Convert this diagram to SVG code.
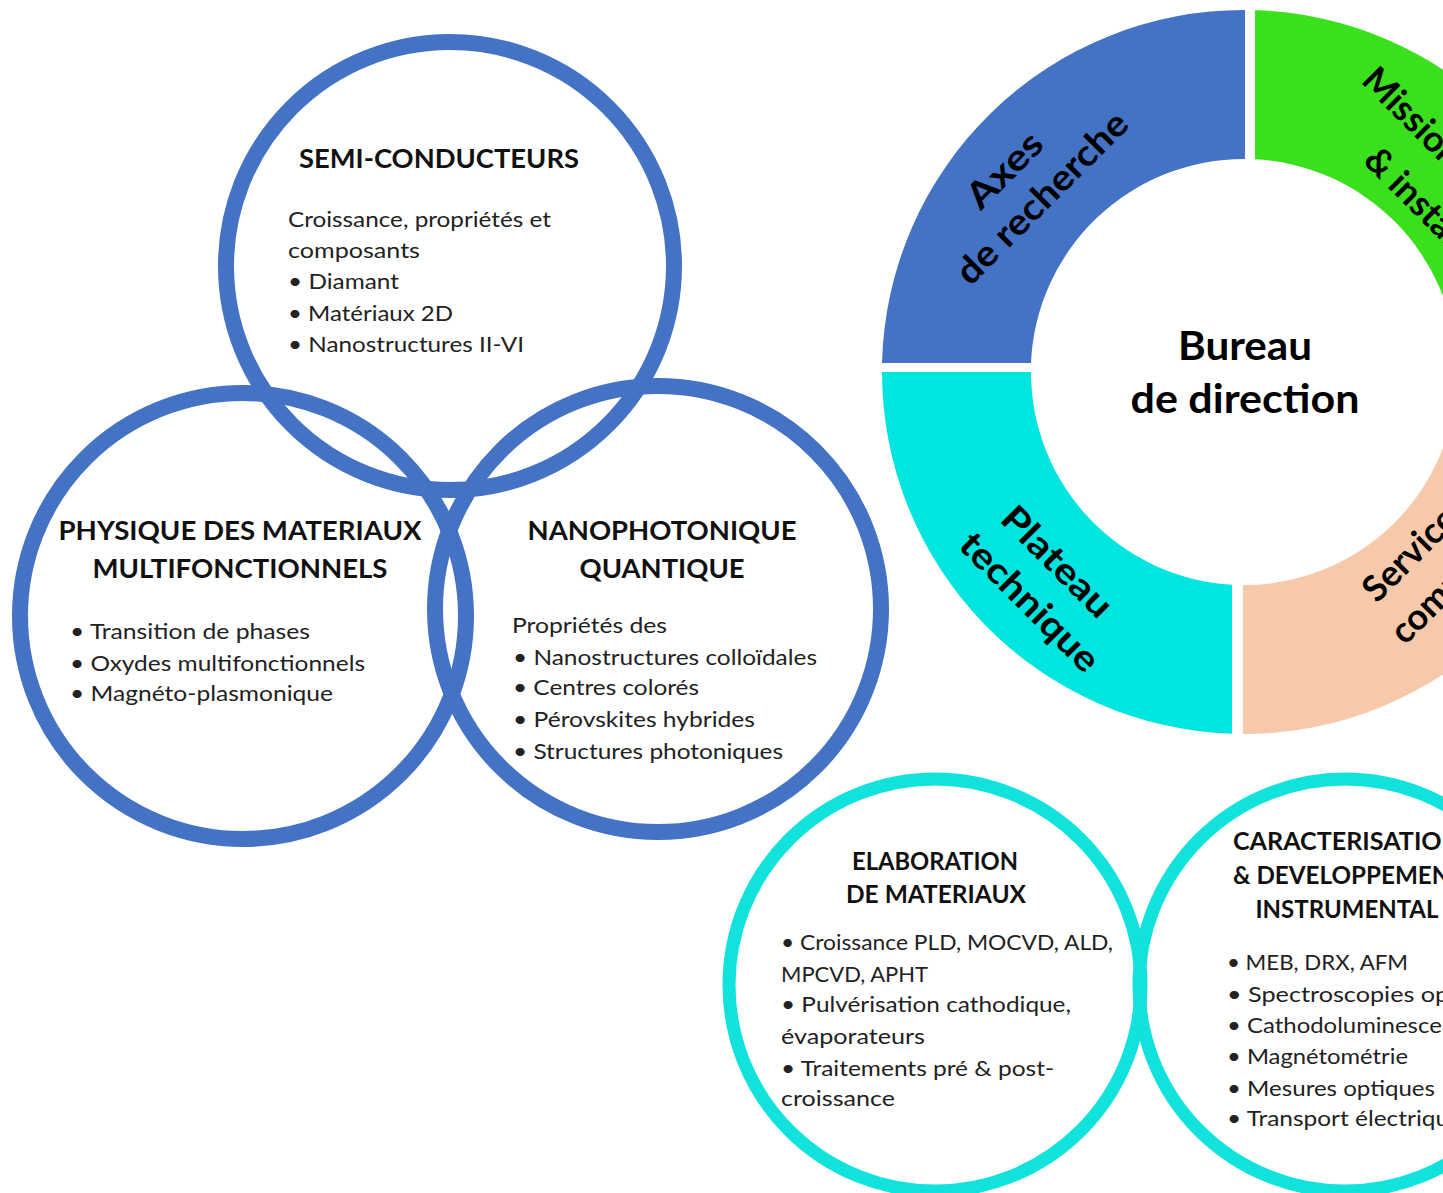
<svg xmlns="http://www.w3.org/2000/svg" width="1443" height="1193" viewBox="0 0 1443 1193">
<style>
.bc{fill:none;stroke:#4472C4;stroke-width:16}
.cc{fill:none;stroke:#12E2DC;stroke-width:13}
.h{font-family:Lato,"Liberation Sans",sans-serif;font-weight:bold;fill:#111;font-size:26px}
.h2{font-family:Lato,"Liberation Sans",sans-serif;font-weight:bold;fill:#111;font-size:24px}
.b{font-family:Lato,"Liberation Sans",sans-serif;fill:#222;font-size:21px}
.d{font-family:Lato,"Liberation Sans",sans-serif;font-weight:bold;fill:#000;font-size:36px}
.bu{font-family:Lato,"Liberation Sans",sans-serif;font-weight:bold;fill:#000;font-size:40px}
</style>
<rect width="1443" height="1193" fill="#fff"/>
<g id="connectors"></g>

<g id="donut">
<path id="sec-axes" d="M 882,363 A 362 362 0 0 1 1245,10 L 1245,159 A 213 213 0 0 0 1031,363 Z" fill="#4472C4"/>
<path id="sec-missions" d="M 1255,10.2 A 362 362 0 0 1 1605.9,363 L 1456.8,363 A 213 213 0 0 0 1255,159.3 Z" fill="#3BE01C"/>
<path id="sec-plateau" d="M 882,372 L 1031,372 A 213 213 0 0 0 1232,584.7 L 1232,733.8 A 362 362 0 0 1 882,372 Z" fill="#00E5DF"/>
<path id="sec-services" d="M 1243,585 L 1243,734 A 362 362 0 0 0 1606,372 L 1457,372 A 213 213 0 0 1 1243,585 Z" fill="#F7C9AB"/>
<g transform="translate(1016,176) rotate(-45)">
<text class="d" x="-4" y="0" text-anchor="middle" textLength="92" lengthAdjust="spacingAndGlyphs">Axes</text>
<text class="d" x="3" y="46" text-anchor="middle" textLength="227" lengthAdjust="spacingAndGlyphs">de recherche</text>
</g>
<g transform="translate(1360,82) rotate(45)">
<text class="d" x="0" y="0">Missions</text>
</g>
<g transform="translate(1362,162) rotate(45)">
<text class="d" x="0" y="0">&amp; instances</text>
</g>
<g transform="translate(1052,574) rotate(45)">
<text class="d" x="-5" y="0" text-anchor="middle" textLength="141" lengthAdjust="spacingAndGlyphs">Plateau</text>
<text class="d" x="4" y="48" text-anchor="middle" textLength="181" lengthAdjust="spacingAndGlyphs">technique</text>
</g>
<g transform="translate(1377,604) rotate(-45)">
<text class="d" x="0" y="0">Services</text>
</g>
<g transform="translate(1405,646) rotate(-45)">
<text class="d" x="0" y="0">communs</text>
</g>
<text class="bu" x="1245" y="360" text-anchor="middle" textLength="134" lengthAdjust="spacingAndGlyphs">Bureau</text>
<text class="bu" x="1245" y="413" text-anchor="middle" textLength="229" lengthAdjust="spacingAndGlyphs">de direction</text>
</g>

<g id="semi">
<circle class="bc" cx="450" cy="266" r="224"/>
<text class="h" x="439" y="168" text-anchor="middle" textLength="280" lengthAdjust="spacingAndGlyphs">SEMI-CONDUCTEURS</text>
<text class="b" x="288" y="227" textLength="263" lengthAdjust="spacingAndGlyphs">Croissance, propriétés et</text>
<text class="b" x="288" y="258" textLength="132" lengthAdjust="spacingAndGlyphs">composants</text>
<text class="b" x="288" y="289" textLength="111" lengthAdjust="spacingAndGlyphs">• Diamant</text>
<text class="b" x="288" y="321" textLength="165" lengthAdjust="spacingAndGlyphs">• Matériaux 2D</text>
<text class="b" x="288" y="352" textLength="236" lengthAdjust="spacingAndGlyphs">• Nanostructures II-VI</text>
</g>

<g id="physique">
<circle class="bc" cx="243" cy="616" r="223"/>
<text class="h" x="240" y="540" text-anchor="middle" textLength="363" lengthAdjust="spacingAndGlyphs">PHYSIQUE DES MATERIAUX</text>
<text class="h" x="240" y="578" text-anchor="middle" textLength="295" lengthAdjust="spacingAndGlyphs">MULTIFONCTIONNELS</text>
<text class="b" x="70" y="639" textLength="240" lengthAdjust="spacingAndGlyphs">• Transition de phases</text>
<text class="b" x="70" y="671" textLength="295" lengthAdjust="spacingAndGlyphs">• Oxydes multifonctionnels</text>
<text class="b" x="70" y="701" textLength="263" lengthAdjust="spacingAndGlyphs">• Magnéto-plasmonique</text>
</g>

<g id="nanophotonique">
<circle class="bc" cx="658" cy="609" r="223"/>
<text class="h" x="662" y="540" text-anchor="middle" textLength="269" lengthAdjust="spacingAndGlyphs">NANOPHOTONIQUE</text>
<text class="h" x="662" y="578" text-anchor="middle" textLength="165" lengthAdjust="spacingAndGlyphs">QUANTIQUE</text>
<text class="b" x="512" y="633" textLength="155" lengthAdjust="spacingAndGlyphs">Propriétés des</text>
<text class="b" x="513" y="665" textLength="304" lengthAdjust="spacingAndGlyphs">• Nanostructures colloïdales</text>
<text class="b" x="513" y="695" textLength="186" lengthAdjust="spacingAndGlyphs">• Centres colorés</text>
<text class="b" x="513" y="727" textLength="242" lengthAdjust="spacingAndGlyphs">• Pérovskites hybrides</text>
<text class="b" x="513" y="759" textLength="270" lengthAdjust="spacingAndGlyphs">• Structures photoniques</text>
</g>

<g id="elaboration">
<circle class="cc" cx="935" cy="985" r="206"/>
<text class="h2" x="935" y="870" text-anchor="middle" textLength="166" lengthAdjust="spacingAndGlyphs">ELABORATION</text>
<text class="h2" x="936" y="903" text-anchor="middle" textLength="180" lengthAdjust="spacingAndGlyphs">DE MATERIAUX</text>
<text class="b" x="781" y="950" textLength="332" lengthAdjust="spacingAndGlyphs">• Croissance PLD, MOCVD, ALD,</text>
<text class="b" x="781" y="982" textLength="147" lengthAdjust="spacingAndGlyphs">MPCVD, APHT</text>
<text class="b" x="781" y="1012" textLength="290" lengthAdjust="spacingAndGlyphs">• Pulvérisation cathodique,</text>
<text class="b" x="781" y="1044" textLength="144" lengthAdjust="spacingAndGlyphs">évaporateurs</text>
<text class="b" x="781" y="1076" textLength="273" lengthAdjust="spacingAndGlyphs">• Traitements pré &amp; post-</text>
<text class="b" x="781" y="1106" textLength="114" lengthAdjust="spacingAndGlyphs">croissance</text>
</g>

<g id="caracterisation">
<circle class="cc" cx="1345" cy="985" r="206"/>
<text class="h2" x="1347" y="850" text-anchor="middle" textLength="228" lengthAdjust="spacingAndGlyphs">CARACTERISATION</text>
<text class="h2" x="1349" y="884" text-anchor="middle" textLength="232" lengthAdjust="spacingAndGlyphs">&amp; DEVELOPPEMENT</text>
<text class="h2" x="1347" y="918" text-anchor="middle" textLength="183" lengthAdjust="spacingAndGlyphs">INSTRUMENTAL</text>
<text class="b" x="1227" y="970" textLength="181" lengthAdjust="spacingAndGlyphs">• MEB, DRX, AFM</text>
<text class="b" x="1227" y="1002" textLength="290" lengthAdjust="spacingAndGlyphs">• Spectroscopies optiques</text>
<text class="b" x="1227" y="1033" textLength="252" lengthAdjust="spacingAndGlyphs">• Cathodoluminescence</text>
<text class="b" x="1227" y="1064" textLength="181" lengthAdjust="spacingAndGlyphs">• Magnétométrie</text>
<text class="b" x="1227" y="1096" textLength="208" lengthAdjust="spacingAndGlyphs">• Mesures optiques</text>
<text class="b" x="1227" y="1126" textLength="235" lengthAdjust="spacingAndGlyphs">• Transport électrique</text>
</g>
</svg>
